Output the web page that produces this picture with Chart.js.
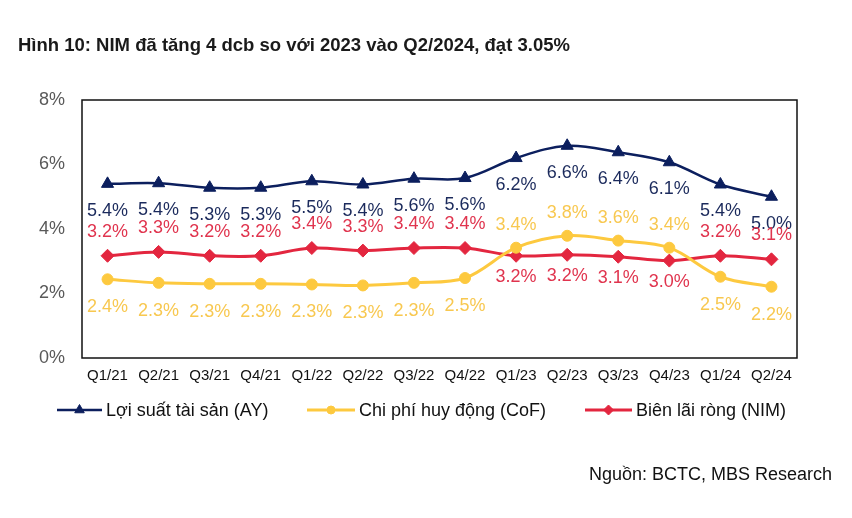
<!DOCTYPE html>
<html>
<head>
<meta charset="utf-8">
<script src="https://cdn.jsdelivr.net/npm/chart.js@4.4.1/dist/chart.umd.min.js"></script>
<style>
  body { margin: 0; background: #fff; font-family: "Liberation Sans", Arial, sans-serif; }
  #wrap { position: relative; width: 852px; height: 518px; }
  #chart { position: absolute; left: 0; top: 0; }
  .title { position: absolute; left: 18px; top: 34px; font-size: 18.5px; font-weight: bold; color: #1a1a1a; white-space: nowrap; }
  .source { position: absolute; right: 20px; top: 464px; font-size: 18px; color: #111; white-space: nowrap; }
</style>
</head>
<body>
<div id="wrap">
  <canvas id="chart" width="852" height="518"></canvas>
  <div class="title">Hình 10: NIM đã tăng 4 dcb so với 2023 vào Q2/2024, đạt 3.05%</div>
  <div class="source">Nguồn: BCTC, MBS Research</div>
</div>
<script>
const quarters = ['Q1/21', 'Q2/21', 'Q3/21', 'Q4/21', 'Q1/22', 'Q2/22', 'Q3/22', 'Q4/22',
                  'Q1/23', 'Q2/23', 'Q3/23', 'Q4/23', 'Q1/24', 'Q2/24'];
const assetYield = [5.4, 5.42, 5.28, 5.28, 5.48, 5.38, 5.56, 5.58, 6.2, 6.58, 6.38, 6.07, 5.38, 5.0];
const costOfFunds = [2.44, 2.33, 2.3, 2.3, 2.28, 2.25, 2.33, 2.48, 3.42, 3.79, 3.64, 3.42, 2.52, 2.21];
const nim = [3.17, 3.29, 3.17, 3.17, 3.41, 3.33, 3.41, 3.41, 3.17, 3.2, 3.14, 3.02, 3.17, 3.06];
const yTicks = [0, 2, 4, 6, 8];

const FONT = '"Liberation Sans", Arial, sans-serif';
const NAVY = '#0c1f5e';
const GOLD = '#fdc93f';
const RED = '#e3263f';

// labels next to each point, above or below depending on the other series
const pointLabels = {
    id: 'pointLabels',
    afterDatasetsDraw(chart) {
        const ctx = chart.ctx;
        ctx.save();
        ctx.font = '18px ' + FONT;
        ctx.textAlign = 'center';
        ctx.textBaseline = 'middle';
        chart.data.datasets.forEach((ds, di) => {
            const meta = chart.getDatasetMeta(di);
            meta.data.forEach((pt, i) => {
                let dy;
                if (di === 0) {
                    dy = 27;
                } else if (di === 1) {
                    dy = costOfFunds[i] > nim[i] ? -23 : 28;
                } else {
                    dy = costOfFunds[i] > nim[i] ? 21 : -24;
                }
                ctx.fillStyle = ds.labelColor;
                ctx.fillText(ds.data[i].toFixed(1) + '%', pt.x, pt.y + dy);
            });
        });
        ctx.restore();
    }
};

// black box round the plot, and the legend row under the axis
const frameAndLegend = {
    id: 'frameAndLegend',
    afterDraw(chart) {
        const ctx = chart.ctx;
        const a = chart.chartArea;
        ctx.save();
        ctx.strokeStyle = '#111';
        ctx.lineWidth = 1.5;
        ctx.strokeRect(a.left, a.top, a.right - a.left, a.bottom - a.top);

        const items = [
            { x: 57, w: 45 },
            { x: 307, w: 48 },
            { x: 585, w: 47 }
        ];
        const y = 410;
        ctx.font = '18px ' + FONT;
        ctx.textBaseline = 'middle';
        ctx.textAlign = 'left';
        chart.data.datasets.forEach((ds, di) => {
            const it = items[di];
            ctx.strokeStyle = ds.borderColor;
            ctx.lineWidth = ds.borderWidth;
            ctx.beginPath();
            ctx.moveTo(it.x, y);
            ctx.lineTo(it.x + it.w, y);
            ctx.stroke();
            ctx.fillStyle = ds.borderColor;
            ctx.lineWidth = 1;
            Chart.helpers.drawPoint(ctx, {
                pointStyle: ds.pointStyle,
                radius: ds.pointRadius - 1.5,
                rotation: 0,
                borderWidth: 1
            }, it.x + it.w / 2, y);
            ctx.fillStyle = '#111';
            ctx.fillText(ds.label, it.x + it.w + 4, y + 1);
        });
        ctx.restore();
    }
};

function makeSeries(label, data, color, labelColor, style, radius, width) {
    return {
        label: label,
        data: data,
        borderColor: color,
        backgroundColor: color,
        labelColor: labelColor,
        borderWidth: width,
        pointStyle: style,
        pointRadius: radius,
        pointBackgroundColor: color,
        pointBorderColor: color,
        pointBorderWidth: 1,
        tension: 0.35,
        fill: false
    };
}

new Chart(document.getElementById('chart').getContext('2d'), {
    type: 'line',
    data: {
        labels: quarters,
        datasets: [
            makeSeries('Lợi suất tài sản (AY)', assetYield, NAVY, '#1b2a5c', 'triangle', 7, 2.5),
            makeSeries('Chi phí huy động (CoF)', costOfFunds, GOLD, '#f8c850', 'circle', 5.5, 3),
            makeSeries('Biên lãi ròng (NIM)', nim, RED, '#e0344e', 'rectRot', 6.5, 3)
        ]
    },
    options: {
        responsive: false,
        animation: false,
        layout: { padding: { top: 100, right: 55, left: 0, bottom: 0 } },
        plugins: {
            legend: { display: false },
            tooltip: { enabled: false }
        },
        scales: {
            x: {
                offset: true,
                grid: { display: false, drawTicks: false },
                border: { display: false },
                ticks: { color: '#111', font: { size: 15, family: FONT }, padding: 9, maxRotation: 0, autoSkip: false },
                afterFit: (scale) => { scale.height = 160; }
            },
            y: {
                min: 0,
                max: 8,
                grid: { display: false, drawTicks: false },
                border: { display: false },
                afterBuildTicks: (scale) => { scale.ticks = yTicks.map(v => ({ value: v })); },
                ticks: {
                    color: '#595959',
                    font: { size: 18, family: FONT },
                    padding: 17,
                    callback: (v) => v + '%'
                },
                afterFit: (scale) => { scale.width = 82; }
            }
        }
    },
    plugins: [pointLabels, frameAndLegend]
});
</script>
</body>
</html>
